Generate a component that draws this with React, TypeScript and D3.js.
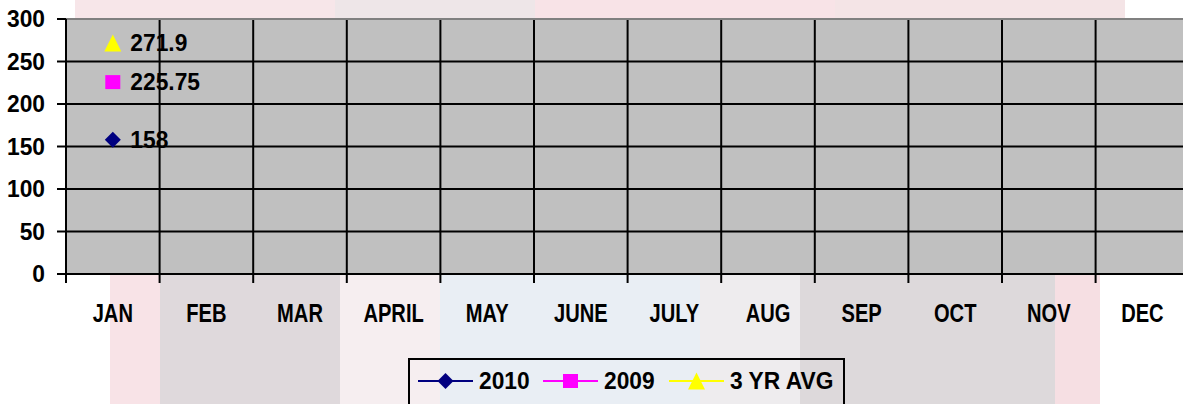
import React from "react";
import * as d3 from "d3";

const categories = ["JAN", "FEB", "MAR", "APRIL", "MAY", "JUNE", "JULY", "AUG", "SEP", "OCT", "NOV", "DEC"];
const series2010: (number | null)[] = [158, null, null, null, null, null, null, null, null, null, null, null];
const series2009: (number | null)[] = [225.75, null, null, null, null, null, null, null, null, null, null, null];
const seriesAvg: (number | null)[] = [271.9, null, null, null, null, null, null, null, null, null, null, null];
const yTicks = [0, 50, 100, 150, 200, 250, 300];
const labels2010 = ["158"];
const labels2009 = ["225.75"];
const labelsAvg = ["271.9"];

const W = 1183;
const H = 404;
const left = 66;
const bandW = 93.6;
const top = 19;
const bottom = 274;

const NAVY = "#000080";
const MAGENTA = "#ff00ff";
const YELLOW = "#ffff00";
const FONT = "'Liberation Sans', Arial, sans-serif";

const bgRects = [
  // top strip
  { x: 75, y: 0, w: 260, h: 18, c: "#f7e6e9" },
  { x: 335, y: 0, w: 200, h: 18, c: "#eee6e8" },
  { x: 535, y: 0, w: 300, h: 18, c: "#f8e3e7" },
  { x: 835, y: 0, w: 290, h: 18, c: "#f4e4e6" },
  // bottom
  { x: 110, y: 274, w: 50, h: 130, c: "#f8e3e7" },
  { x: 160, y: 274, w: 180, h: 130, c: "#dfd9dc" },
  { x: 340, y: 274, w: 100, h: 130, c: "#f6eef0" },
  { x: 440, y: 274, w: 260, h: 130, c: "#e9eef4" },
  { x: 700, y: 274, w: 100, h: 130, c: "#eeecee" },
  { x: 800, y: 274, w: 255, h: 130, c: "#ddd9db" },
  { x: 1055, y: 274, w: 45, h: 130, c: "#f6dfe3" },
];

function Marker({ kind, cx, cy }: { kind: string; cx: number; cy: number }) {
  if (kind === "diamond") {
    const s = 8;
    return <path d={`M${cx},${cy - s}L${cx + s},${cy}L${cx},${cy + s}L${cx - s},${cy}Z`} fill={NAVY} />;
  }
  if (kind === "square") {
    return <rect x={cx - 7.5} y={cy - 7} width={15} height={14} fill={MAGENTA} />;
  }
  const s = 8.5;
  return <path d={`M${cx},${cy - s}L${cx + s},${cy + s}L${cx - s},${cy + s}Z`} fill={YELLOW} />;
}

function NumText({ x, y, anchor, children }: any) {
  return (
    <text
      transform={`translate(${x},${y}) scale(1,1.08)`}
      fontFamily={FONT}
      fontWeight="bold"
      fontSize={22.8}
      textAnchor={anchor || "start"}
      fill="#000"
    >
      {children}
    </text>
  );
}

export default function App() {
  const x = d3.scaleBand<string>().domain(categories).range([left, left + bandW * categories.length]);
  const y = d3.scaleLinear().domain([0, 300]).range([bottom, top]);
  const cx = (c: string) => (x(c) as number) + x.bandwidth() / 2;
  const boundaries = categories.map((c) => x(c) as number).concat([left + bandW * categories.length]);

  const series = [
    { name: "2010", data: series2010, labels: labels2010, color: NAVY, marker: "diamond" },
    { name: "2009", data: series2009, labels: labels2009, color: MAGENTA, marker: "square" },
    { name: "3 YR AVG", data: seriesAvg, labels: labelsAvg, color: YELLOW, marker: "triangle" },
  ];

  const legendItems = [
    { s: series[0], lx: 418 },
    { s: series[1], lx: 543 },
    { s: series[2], lx: 669 },
  ];

  return (
    <svg
      width={W}
      height={H}
      style={{ position: "absolute", left: 0, top: 0, display: "block" }}
      xmlns="http://www.w3.org/2000/svg"
    >
      <rect x={0} y={0} width={W} height={H} fill="#ffffff" />
      {bgRects.map((r, i) => (
        <rect key={i} x={r.x} y={r.y} width={r.w} height={r.h} fill={r.c} />
      ))}

      {/* plot area */}
      <rect x={left} y={top} width={W - left} height={bottom - top} fill="#c0c0c0" />

      {/* horizontal gridlines */}
      {yTicks.map((t) =>
        t === 0 || t === 300 ? null : (
          <line key={"h" + t} x1={left} x2={W} y1={y(t)} y2={y(t)} stroke="#000" strokeWidth={2} />
        )
      )}
      {/* vertical gridlines */}
      {boundaries.map((b, i) =>
        i === 0 ? null : <line key={"v" + i} x1={b} x2={b} y1={top} y2={bottom} stroke="#000" strokeWidth={2} />
      )}
      {/* top border */}
      <line x1={left} x2={W} y1={top} y2={top} stroke="#808080" strokeWidth={2} />

      {/* axes */}
      <line x1={left} x2={left} y1={top} y2={bottom + 9} stroke="#000" strokeWidth={2} />
      <line x1={left - 1} x2={W} y1={bottom} y2={bottom} stroke="#000" strokeWidth={2} />
      {yTicks.map((t) => (
        <g key={"yt" + t}>
          <line x1={left - 9} x2={left} y1={y(t)} y2={y(t)} stroke="#000" strokeWidth={2} />
          <NumText x={45} y={y(t) + 8.3} anchor="end">
            {String(t)}
          </NumText>
        </g>
      ))}
      {boundaries.map((b, i) => (
        <line key={"xt" + i} x1={b} x2={b} y1={bottom} y2={bottom + 9} stroke="#000" strokeWidth={2} />
      ))}
      {categories.map((c) => (
        <text
          key={c}
          transform={`translate(${cx(c)},321.5) scale(0.76,1)`}
          fontFamily={FONT}
          fontWeight="bold"
          fontSize={26.5}
          textAnchor="middle"
          fill="#000"
        >
          {c}
        </text>
      ))}

      {/* series */}
      {series.map((s) => {
        const line = d3
          .line<number | null>()
          .defined((d) => d != null)
          .x((_, i) => cx(categories[i]))
          .y((d) => y(d as number));
        return (
          <g key={s.name}>
            <path d={line(s.data) || ""} fill="none" stroke={s.color} strokeWidth={2} />
            {s.data.map((d, i) =>
              d == null ? null : (
                <g key={i}>
                  <Marker kind={s.marker} cx={cx(categories[i])} cy={y(d)} />
                  <NumText x={cx(categories[i]) + 17.5} y={y(d) + 8}>
                    {s.labels[i]}
                  </NumText>
                </g>
              )
            )}
          </g>
        );
      })}

      {/* legend */}
      <rect x={409} y={359} width={435} height={60} fill="none" stroke="#000" strokeWidth={2} />
      {legendItems.map(({ s, lx }) => (
        <g key={s.name}>
          <line x1={lx} x2={lx + 55} y1={381} y2={381} stroke={s.color} strokeWidth={2} />
          <Marker kind={s.marker} cx={lx + 27.5} cy={381} />
          <NumText x={lx + 61} y={389.3}>
            {s.name}
          </NumText>
        </g>
      ))}
    </svg>
  );
}
